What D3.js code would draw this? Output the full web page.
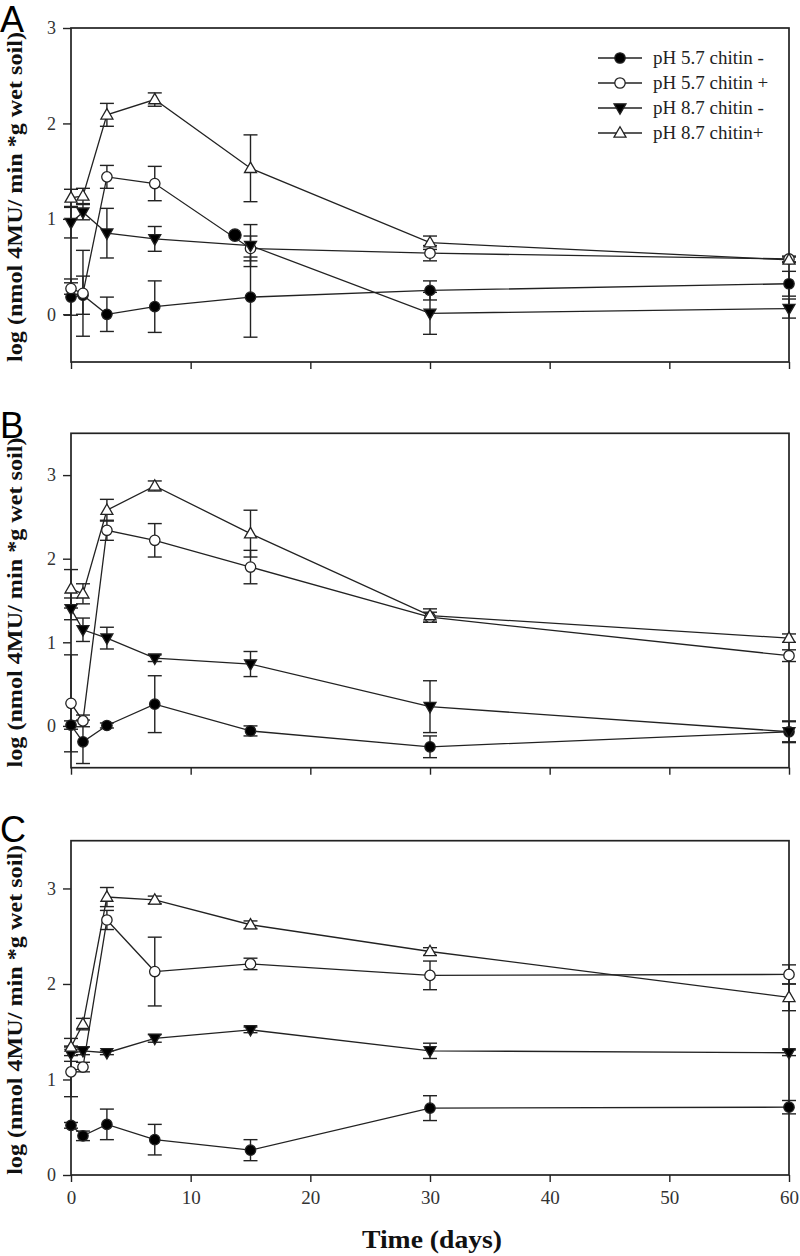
<!DOCTYPE html>
<html>
<head>
<meta charset="utf-8">
<script src="https://cdn.jsdelivr.net/npm/d3@7"></script>
<style>
  html, body { margin: 0; padding: 0; background: #fff; }
  svg { display: block; }
</style>
</head>
<body>
<svg id="chart" width="800" height="1256"></svg>
<script>
// ---------------- DATA ----------------
const days = [0, 1, 3, 7, 15, 30, 60];
const seriesNames = ["pH 5.7 chitin -", "pH 5.7 chitin +", "pH 8.7 chitin -", "pH 8.7 chitin+"];
const xTicks = [0, 10, 20, 30, 40, 50, 60];
const yTicks = [0, 1, 2, 3];
const panelLetters = ["A", "B", "C"];
const yTitle = "log (nmol 4MU/ min *g wet soil)";
const xTitle = "Time (days)";

// Panel A
const A_ph57_minus     = [0.18, 0.20, 0.00, 0.08, 0.18, 0.25, 0.32];
const A_ph57_minus_err = [0.19, 0.20, 0.18, 0.27, 0.42, 0.10, 0.13];
const A_ph57_plus      = [0.27, 0.22, 1.44, 1.37, 0.69, 0.64, 0.58];
const A_ph57_plus_err  = [0.06, 0.45, 0.12, 0.18, 0.13, 0.08, 0.03];
const A_ph87_minus     = [0.96, 1.07, 0.85, 0.79, 0.72, 0.01, 0.06];
const A_ph87_minus_err = [0.16, 0.08, 0.26, 0.13, 0.22, 0.22, 0.10];
const A_ph87_plus      = [1.22, 1.24, 2.09, 2.25, 1.53, 0.75, 0.57];
const A_ph87_plus_err  = [0.09, 0.08, 0.12, 0.07, 0.35, 0.07, 0.03];
const A_extraDay = [13.7];
const A_extraVal = [0.83];

// Panel B
const B_ph57_minus     = [0.01, -0.19, 0.005, 0.26, -0.06, -0.25, -0.07];
const B_ph57_minus_err = [0.05, 0.26, 0.03, 0.34, 0.06, 0.13, 0.12];
const B_ph57_plus      = [0.27, 0.06, 2.34, 2.22, 1.90, 1.30, 0.84];
const B_ph57_plus_err  = [0.58, 0.07, 0.12, 0.20, 0.20, 0.06, 0.07];
const B_ph87_minus     = [1.40, 1.15, 1.05, 0.81, 0.74, 0.23, -0.07];
const B_ph87_minus_err = [0.13, 0.14, 0.13, 0.04, 0.15, 0.31, 0.13];
const B_ph87_plus      = [1.64, 1.58, 2.58, 2.87, 2.30, 1.32, 1.05];
const B_ph87_plus_err  = [0.23, 0.12, 0.13, 0.06, 0.28, 0.08, 0.05];

// Panel C
const C_ph57_minus     = [0.52, 0.41, 0.53, 0.37, 0.26, 0.70, 0.71];
const C_ph57_minus_err = [0.03, 0.05, 0.16, 0.16, 0.11, 0.13, 0.07];
const C_ph57_plus      = [1.08, 1.13, 2.67, 2.13, 2.21, 2.09, 2.10];
const C_ph57_plus_err  = [0.26, 0.05, 0.10, 0.36, 0.06, 0.15, 0.10];
const C_ph87_minus     = [1.27, 1.30, 1.28, 1.43, 1.52, 1.30, 1.28];
const C_ph87_minus_err = [0.08, 0.04, 0.02, 0.04, 0.03, 0.08, 0.03];
const C_ph87_plus      = [1.34, 1.58, 2.91, 2.88, 2.62, 2.34, 1.86];
const C_ph87_plus_err  = [0.09, 0.06, 0.10, 0.04, 0.04, 0.04, 0.14];

// ---------------- LAYOUT ----------------
const svg = d3.select("#chart");
const serif = "'Liberation Serif','Times New Roman',serif";
const sans = "'Liberation Sans',Arial,sans-serif";
const ink = "#222";
const left = 71, right = 789;

const panels = [
  { letter: panelLetters[0], top: 28,    bottom: 362,    domain: [-0.5, 3],   letterY: 32,
    series: [[A_ph57_minus, A_ph57_minus_err], [A_ph57_plus, A_ph57_plus_err],
             [A_ph87_minus, A_ph87_minus_err], [A_ph87_plus, A_ph87_plus_err]],
    legend: true, xLabels: false, extra: [A_extraDay, A_extraVal] },
  { letter: panelLetters[1], top: 433.3, bottom: 767.7,  domain: [-0.5, 3.5], letterY: 438,
    series: [[B_ph57_minus, B_ph57_minus_err], [B_ph57_plus, B_ph57_plus_err],
             [B_ph87_minus, B_ph87_minus_err], [B_ph87_plus, B_ph87_plus_err]],
    legend: false, xLabels: false },
  { letter: panelLetters[2], top: 840.7, bottom: 1175,   domain: [0, 3.5],    letterY: 842,
    series: [[C_ph57_minus, C_ph57_minus_err], [C_ph57_plus, C_ph57_plus_err],
             [C_ph87_minus, C_ph87_minus_err], [C_ph87_plus, C_ph87_plus_err]],
    legend: false, xLabels: true }
];

const x = d3.scaleLinear().domain([0, 60]).range([left, right]);

// marker styles: [shape, filled]
const markerStyle = [["circle", true], ["circle", false], ["down", true], ["up", false]];
function markerPath(shape) {
  if (shape === "up") return "M0,-6.2L6,4.2L-6,4.2Z";
  if (shape === "down") return "M0,6.2L6,-4.2L-6,-4.2Z";
  return null;
}
function drawMarker(g, shape, filled, cx, cy) {
  if (shape === "circle") {
    g.append("circle").attr("cx", cx).attr("cy", cy).attr("r", 5.2)
      .attr("fill", filled ? "#000" : "#fff").attr("stroke", ink).attr("stroke-width", 1.3);
  } else {
    g.append("path").attr("d", markerPath(shape))
      .attr("transform", `translate(${cx},${cy})`)
      .attr("fill", filled ? "#000" : "#fff").attr("stroke", ink).attr("stroke-width", 1.3);
  }
}

panels.forEach(p => {
  const y = d3.scaleLinear().domain(p.domain).range([p.bottom, p.top]);
  const g = svg.append("g");

  // x axis
  const xAxis = d3.axisBottom(x).tickValues(xTicks).tickSize(7).tickPadding(9)
    .tickFormat(p.xLabels ? d3.format("d") : () => "");
  const gx = g.append("g").attr("transform", `translate(0,${p.bottom})`).call(xAxis);
  gx.select(".domain").remove();
  gx.selectAll(".tick line").attr("stroke", ink).attr("stroke-width", 1.4);
  gx.selectAll(".tick text").attr("font-family", serif).attr("font-size", 19).attr("fill", "#333");

  // y axis
  const yAxis = d3.axisLeft(y).tickValues(yTicks).tickSize(8).tickPadding(7).tickFormat(d3.format("d"));
  const gy = g.append("g").attr("transform", `translate(${left},0)`).call(yAxis);
  gy.select(".domain").remove();
  gy.selectAll(".tick line").attr("stroke", ink).attr("stroke-width", 1.4);
  gy.selectAll(".tick text").attr("font-family", serif).attr("font-size", 18).attr("fill", "#333");

  // frame
  g.append("rect").attr("x", left).attr("y", p.top)
    .attr("width", right - left).attr("height", p.bottom - p.top)
    .attr("fill", "none").attr("stroke", ink).attr("stroke-width", 1.7);

  // lines
  const line = d3.line().x(d => x(d[0])).y(d => y(d[1]));
  p.series.forEach(([vals]) => {
    const pts = days.map((d, i) => [d, vals[i]]);
    g.append("path").attr("d", line(pts)).attr("fill", "none")
      .attr("stroke", ink).attr("stroke-width", 1.3);
  });

  // error bars
  p.series.forEach(([vals, errs]) => {
    days.forEach((d, i) => {
      const cx = x(d), y1 = y(vals[i] + errs[i]), y2 = y(vals[i] - errs[i]);
      const eb = g.append("g").attr("stroke", ink).attr("stroke-width", 1.4);
      eb.append("line").attr("x1", cx).attr("x2", cx).attr("y1", y1).attr("y2", y2);
      eb.append("line").attr("x1", cx - 7).attr("x2", cx + 7).attr("y1", y1).attr("y2", y1);
      eb.append("line").attr("x1", cx - 7).attr("x2", cx + 7).attr("y1", y2).attr("y2", y2);
    });
  });

  // markers
  p.series.forEach(([vals], si) => {
    const [shape, filled] = markerStyle[si];
    days.forEach((d, i) => drawMarker(g, shape, filled, x(d), y(vals[i])));
  });
  if (p.extra) {
    const [ed, ev] = p.extra;
    ed.forEach((d, i) => {
      g.append("circle").attr("cx", x(d)).attr("cy", y(ev[i])).attr("r", 6.2)
        .attr("fill", "#000").attr("stroke", ink).attr("stroke-width", 1.2);
    });
  }

  // panel letter
  svg.append("text").attr("x", 0).attr("y", p.letterY).text(p.letter)
    .attr("font-family", sans).attr("font-size", 36).attr("fill", "#000");

  // y title
  const cy = (p.top + p.bottom) / 2 + 2;
  svg.append("text").attr("transform", `translate(22,${cy}) rotate(-90)`)
    .attr("text-anchor", "middle").attr("font-family", serif).attr("font-weight", "bold")
    .attr("font-size", 21).attr("fill", "#111")
    .attr("textLength", 330).attr("lengthAdjust", "spacingAndGlyphs")
    .text(yTitle);

  // legend
  if (p.legend) {
    const lg = svg.append("g");
    seriesNames.forEach((name, i) => {
      const ry = 58 + i * 25;
      lg.append("line").attr("x1", 598).attr("x2", 642).attr("y1", ry).attr("y2", ry)
        .attr("stroke", ink).attr("stroke-width", 1.3);
      const [shape, filled] = markerStyle[i];
      drawMarker(lg, shape, filled, 620, ry);
      lg.append("text").attr("x", 653).attr("y", ry + 6).text(name)
        .attr("font-family", serif).attr("font-size", 19).attr("fill", "#222");
    });
  }
});

// x title
svg.append("text").attr("x", 432).attr("y", 1248).attr("text-anchor", "middle")
  .attr("font-family", serif).attr("font-weight", "bold").attr("font-size", 26)
  .attr("fill", "#111").attr("textLength", 140).attr("lengthAdjust", "spacingAndGlyphs")
  .text(xTitle);
</script>
</body>
</html>
